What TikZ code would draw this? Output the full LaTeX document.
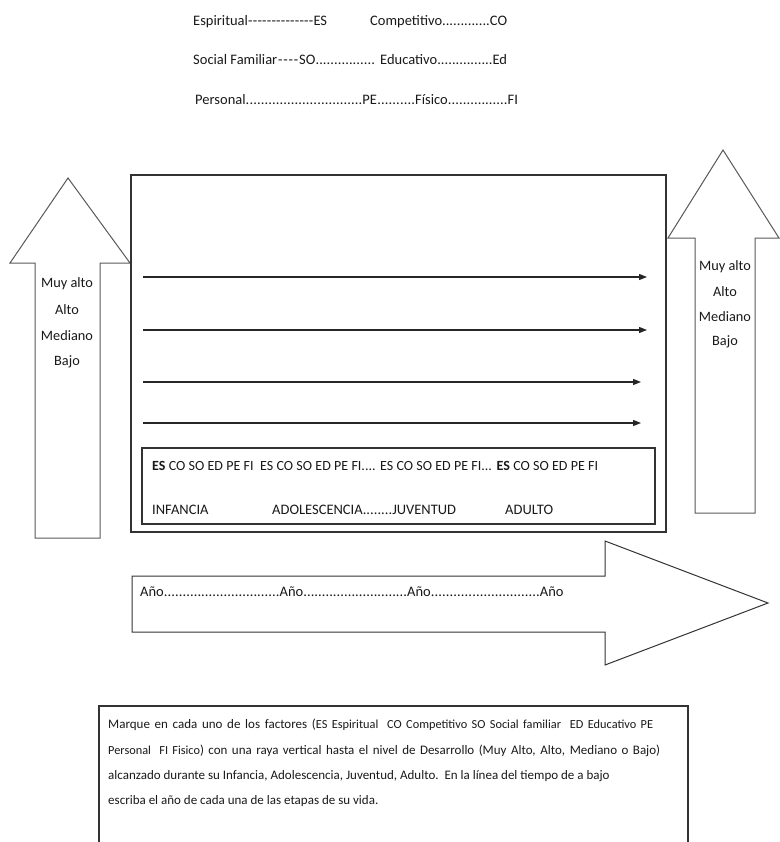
\documentclass[tikz,border=0pt]{standalone}
\usepackage{fontspec}
\setmainfont{Carlito}
\usetikzlibrary{positioning,arrows.meta}

\newcommand\dotrun[1]{\xleaders\hbox{.}\hskip#1\relax}
\newcommand\dashrun[1]{\xleaders\hbox{-}\hskip#1\relax}
\newcommand\dotsfill{\xleaders\hbox{.}\hfill}
\newcommand\dashesfill{\xleaders\hbox{-}\hfill}

\begin{document}
\begin{tikzpicture}[
    x=1pt, y=-1pt,
    every node/.style={inner sep=0pt, text=black!90, font=\fontsize{14}{16}\selectfont},
    legend/.style={anchor=west, font=\fontsize{14.5}{17}\selectfont},
    level/.style={font=\fontsize{14.3}{17}\selectfont},
    stage/.style={anchor=west, font=\fontsize{14.5}{17}\selectfont},
    note/.style={anchor=west, font=\fontsize{13}{15}\selectfont},
    frame/.style={draw=black!80, line width=1.3pt},
    blockarrow/.style={draw=black!65, line width=1pt, fill=white, line join=miter},
    factor/.style={-{Triangle[length=8pt,width=6pt]}, line width=1.1pt, draw=black!85}
]

\useasboundingbox (0,0) rectangle (779,842);

% ================= LEGEND =================
\node[legend] (es) at (193,22) {\hbox to 134pt{Espiritual\dashesfill ES}};
\node[legend] (co) at (370,22) {\hbox to 137pt{Competitivo\dotsfill CO}};
\node[legend] (so) at (193,60) {\hbox to 182pt{Social Familiar\dashrun{22pt}SO\dotsfill}};
\node[legend] (ed) at (380,60) {\hbox to 127pt{Educativo\dotsfill Ed}};
\node[legend] (pe) at (195,100) {\hbox to 182pt{Personal\dotsfill PE}};
\node[legend] (fi) at (377,100) {\hbox to 141pt{\dotrun{38pt}Físico\dotsfill FI}};

% ================= LEVEL ARROWS =================
\draw[blockarrow] (35,538) -- (35,263) -- (10,263) -- (68,178) -- (130,263)
    -- (100,263) -- (100,538) -- cycle;
\draw[blockarrow] (695,513) -- (695,238) -- (668,238) -- (723,150) -- (779,238)
    -- (755,238) -- (755,513) -- cycle;

\node[level] (lmuy) at (67,284) {Muy alto};
\node[level] (lalto) at (67,310) {Alto};
\node[level] (lmed) at (67,336) {Mediano};
\node[level] (lbajo) at (67,362) {Bajo};

\node[level] (rmuy) at (725,267) {Muy alto};
\node[level] (ralto) at (725,292) {Alto};
\node[level] (rmed) at (725,317) {Mediano};
\node[level] (rbajo) at (725,342) {Bajo};

% ================= MAIN FRAME =================
\draw[frame] (131,175) rectangle (666,532);
\draw[frame] (142,448) rectangle (655,524);

\coordinate (s1) at (143,277);
\coordinate (e1) at (647,277);
\coordinate (s2) at (143,330);
\coordinate (e2) at (647,330);
\coordinate (s3) at (143,382);
\coordinate (e3) at (641,382);
\coordinate (s4) at (143,423);
\coordinate (e4) at (641,423);

\draw[factor] (s1) -- (e1);
\draw[factor] (s2) -- (e2);
\draw[factor] (s3) -- (e3);
\draw[factor] (s4) -- (e4);

\node[stage, font=\fontsize{14}{16}\selectfont] (factors) at (152,466)
    {\hbox to 446pt{\textbf{ES} CO SO ED PE FI\ \ ES CO SO ED PE FI.... ES CO SO ED PE FI... \textbf{ES} CO SO ED PE FI}};

\node[stage] (infancia) at (152,510) {INFANCIA};
\node[stage] (adol) at (272,510) {\hbox to 184pt{ADOLESCENCIA\dotsfill JUVENTUD}};
\node[stage] (adulto) at (505,510) {ADULTO};

% ================= TIME LINE =================
\draw[blockarrow, draw=black!80] (132,576) -- (605,576) -- (605,541) -- (768,603)
    -- (605,665) -- (605,632) -- (132,632) -- cycle;
\node[stage] (anos) at (140,592)
    {\hbox to 424pt{Año\dotrun{116pt}Año\dotrun{104pt}Año\dotsfill Año}};

% ================= NOTE =================
\draw[frame, line width=1.1pt] (99,845) -- (99,706) -- (688,706) -- (688,845);
\node[note] (note1) at (108,725) {\hbox to 545pt{Marque en cada uno de los factores ({\fontsize{12.3}{14}\selectfont ES Espiritual\ \ CO Competitivo SO Social familiar\ \ ED Educativo PE}}};
\node[note] (note2) at (108,751) {\hbox to 552pt{{\fontsize{12.3}{14}\selectfont Personal\ \ FI Fisico}) con una raya vertical hasta el nivel de Desarrollo (Muy Alto, Alto, Mediano o Bajo)}};
\node[note] (note3) at (108,776) {alcanzado durante su Infancia, Adolescencia, Juventud, Adulto.\ \ En la línea del tiempo de a bajo};
\node[note] (note4) at (108,801) {escriba el año de cada una de las etapas de su vida.};

\end{tikzpicture}
\end{document}
